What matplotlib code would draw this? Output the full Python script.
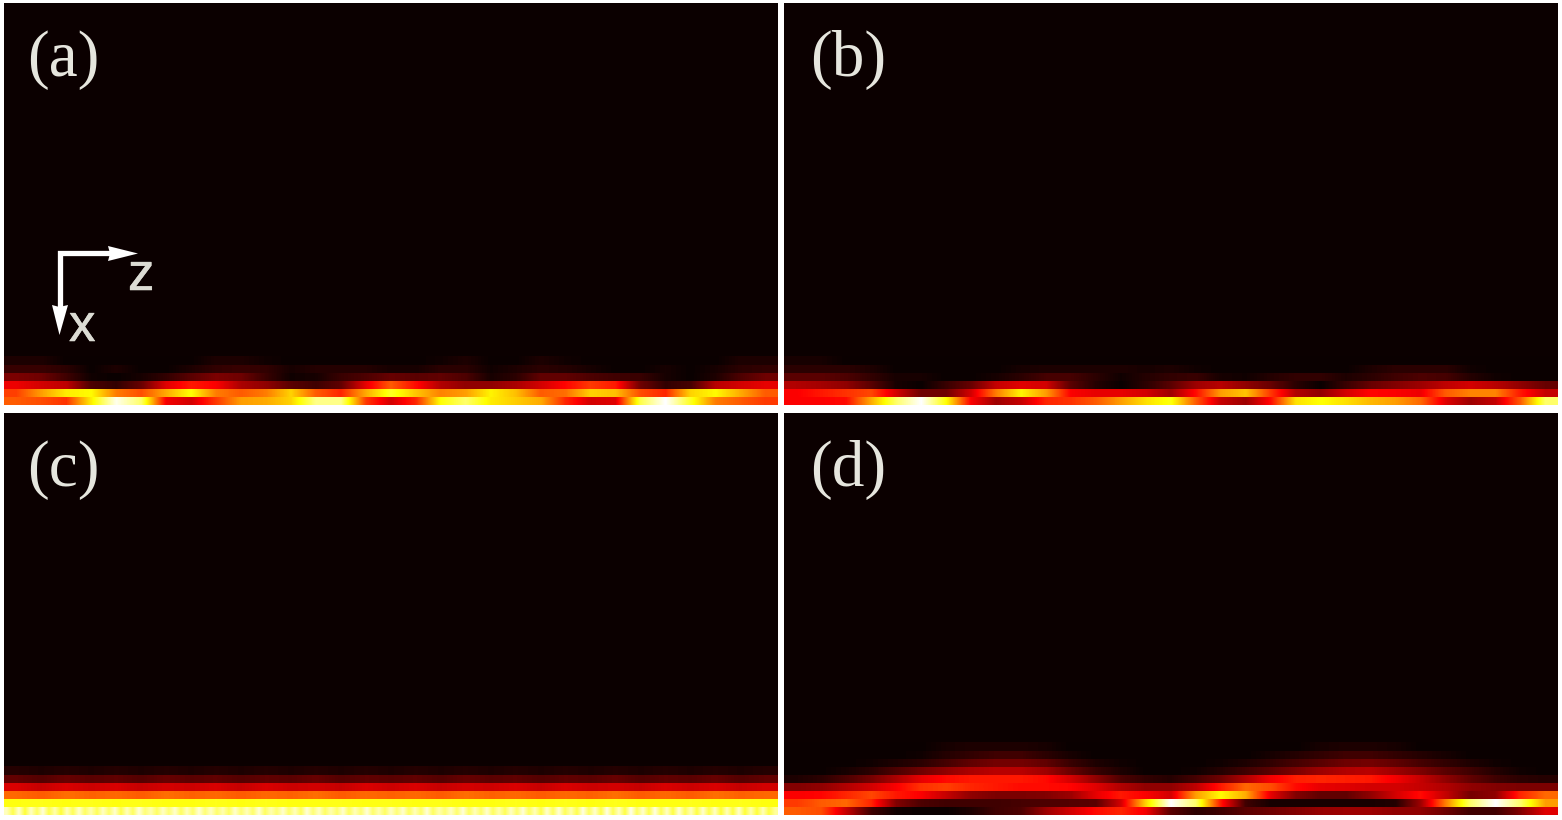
import matplotlib
matplotlib.use("Agg")
import matplotlib.pyplot as plt
import matplotlib.patheffects as pe
import numpy as np

W, H = 1562, 820

# intensity per row, bottom row first (0 = black, 1 = white)
a_rows = [
    [.50, .48, .44, .72, .98, .85, .35, .30, .45, .60, .62, .68, .88, .88, .45, .30, .42, .75, .85, .72, .67, .62, .42, .30, .32, .82, 1.0, .78, .55, .50, .45],
    [.46, .60, .72, .74, .55, .48, .62, .75, .55, .50, .55, .68, .50, .42, .62, .78, .66, .56, .60, .73, .65, .50, .53, .68, .65, .48, .42, .68, .74, .62, .50],
    [.34, .30, .27, .10, .06, .14, .32, .40, .36, .24, .20, .12, .08, .13, .33, .50, .38, .25, .20, .20, .24, .30, .37, .45, .40, .15, .06, .09, .26, .30, .33],
    [.17, .15, .08, .01, .00, .02, .06, .12, .17, .15, .07, .01, .02, .07, .10, .14, .12, .13, .10, .02, .05, .13, .13, .10, .08, .07, .02, .00, .03, .10, .15],
    [.07, .07, .05, .00, .03, .00, .00, .03, .06, .07, .06, .02, .04, .04, .04, .02, .02, .05, .05, .01, .03, .05, .04, .02, .00, .00, .02, .00, .02, .05, .06],
    [.03, .03, .00, .00, .00, .00, .00, .00, .03, .03, .01, .00, .00, .00, .00, .00, .00, .01, .03, .00, .00, .03, .01, .00, .00, .00, .00, .00, .00, .03, .03],
]

b_rows = [
    [.36, .36, .38, .62, .85, 1.0, .75, .36, .22, .28, .42, .44, .50, .60, .70, .76, .50, .28, .22, .38, .70, .75, .70, .64, .60, .52, .32, .22, .28, .50, .85],
    [.36, .40, .44, .47, .30, .15, .15, .30, .55, .73, .60, .36, .33, .33, .30, .22, .38, .60, .66, .45, .25, .20, .30, .37, .36, .34, .50, .56, .56, .40, .28],
    [.25, .23, .20, .12, .02, .00, .07, .14, .28, .32, .30, .12, .04, .00, .05, .12, .22, .26, .20, .14, .05, .00, .07, .14, .18, .22, .27, .30, .26, .20, .14],
    [.12, .12, .10, .06, .02, .02, .00, .00, .02, .05, .09, .09, .05, .01, .04, .06, .07, .02, .01, .04, .06, .06, .03, .05, .08, .10, .09, .04, .01, .00, .00],
    [.05, .05, .05, .03, .00, .00, .00, .00, .00, .02, .03, .03, .03, .03, .02, .03, .01, .00, .00, .00, .00, .00, .00, .03, .05, .05, .05, .01, .00, .00, .00],
    [.02, .02, .00, .00, .00, .00, .00, .00, .00, .00, .00, .00, .00, .00, .00, .00, .00, .00, .00, .00, .00, .00, .00, .00, .00, .00, .00, .00, .00, .00, .00],
]

c_row1 = [
    .93, .82, .95, .80, .94, .84, .96, .82, .92, .80, .93, .83, .95, .84, .92, .83, .94, .85, .95, .82, .93, .84, .96, .86, .92,
    .84, .94, .86, .95, .84, .93, .85, .96, .86, .94, .85, .92, .84, .95, .86, .93, .85, .96, .84, .92, .86, .95, .85, .93, .84,
    .96, .86, .94, .84, .92, .85, .95, .84, .93, .86, .96, .85, .92, .84, .94, .86, .95, .84, .93, .85, .96, .84, .92, .86, .94,
    .85, .96, .84, .93, .85, .95, .84, .92, .83, .94, .85, .96, .84, .93, .82, .95, .84, .96, .83, .92, .82, .97, .84, .95, .82,
    .97, .83, .94, .81, .98, .84, .95, .82, .97, .83, .94, .81, .96, .83, .93, .81, .95, .82, .94, .80, .93, .81, .95, .80, .92,
    .80, .93, .81, .90,
]
c_rows = [
    c_row1,
    [.76, .77, .76, .77, .76, .77, .76, .76, .77, .76, .77, .76, .76, .77, .76, .77, .76, .77, .76, .76, .77, .76, .77, .76, .77, .76, .76, .77, .76, .77, .76],
    [.52, .50, .53, .51, .52, .50, .53, .51, .52, .50, .52, .51, .53, .50, .52, .51, .52, .50, .53, .51, .52, .50, .52, .51, .53, .50, .52, .50, .53, .51, .52],
    [.31, .28, .31, .29, .31, .28, .30, .29, .31, .28, .31, .29, .30, .28, .31, .29, .31, .28, .30, .29, .31, .28, .31, .29, .30, .28, .31, .29, .31, .28, .30],
    [.13, .11, .14, .12, .13, .11, .14, .12, .13, .11, .13, .12, .14, .11, .13, .12, .13, .11, .14, .12, .13, .11, .13, .12, .14, .11, .13, .12, .14, .11, .13],
    [.04, .03, .04, .03, .04, .03, .04, .03, .04, .03, .04, .03, .04, .03, .04, .03, .04, .03, .04, .03, .04, .03, .04, .03, .04, .03, .04, .03, .04, .03, .04],
]

d_rows = [
    [.50, .48, .28, .08, .01, .00, .00, .03, .08, .10, .22, .30, .38, .42, .35, .12, .05, .08, .12, .15, .18, .21, .22, .22, .20, .20, .15, .08, .08, .18, .32],
    [.45, .50, .52, .42, .18, .10, .08, .08, .08, .09, .10, .11, .12, .30, .68, 1.0, .85, .40, .08, .02, .02, .02, .02, .02, .04, .22, .55, .85, 1.0, .85, .60],
    [.36, .37, .42, .47, .40, .36, .28, .20, .17, .17, .18, .22, .33, .40, .36, .30, .60, .74, .62, .33, .18, .13, .13, .20, .30, .38, .28, .16, .20, .42, .52],
    [.18, .20, .25, .30, .36, .44, .46, .42, .40, .38, .38, .37, .32, .25, .20, .20, .27, .40, .52, .48, .38, .33, .32, .30, .30, .28, .25, .20, .18, .17, .17],
    [.03, .05, .10, .16, .24, .33, .38, .40, .40, .40, .38, .30, .20, .10, .06, .04, .09, .15, .25, .35, .41, .42, .41, .40, .35, .28, .20, .13, .08, .05, .04],
    [.00, .00, .02, .05, .10, .15, .20, .24, .26, .26, .22, .14, .07, .03, .00, .00, .01, .04, .08, .12, .17, .22, .25, .26, .22, .17, .12, .08, .04, .01, .00],
    [.00, .00, .00, .01, .03, .05, .09, .13, .16, .16, .13, .07, .03, .01, .00, .00, .00, .01, .03, .06, .09, .12, .15, .16, .13, .09, .06, .03, .01, .00, .00],
    [.00, .00, .00, .00, .00, .01, .04, .06, .08, .08, .05, .02, .00, .00, .00, .00, .00, .00, .00, .02, .04, .06, .08, .08, .06, .04, .02, .00, .00, .00, .00],
    [.00, .00, .00, .00, .00, .00, .02, .03, .03, .03, .02, .00, .00, .00, .00, .00, .00, .00, .00, .00, .00, .02, .03, .03, .02, .00, .00, .00, .00, .00, .00],
]

panel_labels = ["(a)", "(b)", "(c)", "(d)"]

cmap = plt.get_cmap("hot")
# the small extra keeps the saved height at 820 px (8.2 * 100 rounds down)
fig = plt.figure(figsize=(W / 100, (H + 0.001) / 100), dpi=100, facecolor="white")


def add_panel(x0, x1, y0, y1, rows):
    ax = fig.add_axes([x0 / W, 1 - y1 / H, (x1 - x0) / W, (y1 - y0) / H])
    ax.set_facecolor(cmap(0.0))
    # each cell row is 8 px tall, smooth only along z
    for k, row in enumerate(rows):
        ax.imshow(np.array([row]), extent=[0, 1, k, k + 1], origin="lower", aspect="auto",
                  cmap=cmap, vmin=0, vmax=1, interpolation="bilinear")
    ax.set_xlim(0, 1)
    ax.set_ylim(0, (y1 - y0) / 8)
    ax.set_xticks([]); ax.set_yticks([])
    for s in ax.spines.values():
        s.set_visible(False)
    return ax


add_panel(4, 778, 3, 405, a_rows)
add_panel(784, 1558, 3, 405, b_rows)
add_panel(4, 778, 413, 815, c_rows)
add_panel(784, 1558, 413, 815, d_rows)

# overlay in image pixels for labels and axis arrows
ov = fig.add_axes([0, 0, 1, 1], facecolor="none")
ov.set_xlim(0, W)
ov.set_ylim(H, 0)
ov.axis("off")

label_pos = [(27, 76), (810, 76), (27, 486), (810, 486)]
for s, (lx, ly) in zip(panel_labels, label_pos):
    ov.text(lx, ly, s, family="Liberation Serif", fontsize=47, color="#e6e6de", ha="left", va="baseline")

ov.plot([59.5, 59.5, 112], [308, 253.5, 253.5], color="white", lw=3.8, solid_joinstyle="miter", solid_capstyle="butt")
ov.fill([138, 108, 110, 108], [253.5, 246, 253.5, 261], color="white", lw=0)
ov.fill([59.5, 52, 59.5, 68], [335, 305, 307, 305], color="white", lw=0)
stroke = [pe.withStroke(linewidth=0.4, foreground="#dcdcd4")]
ov.text(128, 290, "z", family="Liberation Sans", fontsize=38, color="#dcdcd4", ha="left", va="baseline", path_effects=stroke)
ov.text(69, 341, "x", family="Liberation Sans", fontsize=38, color="#dcdcd4", ha="left", va="baseline", path_effects=stroke)

fig.savefig("out.png", dpi=100)
